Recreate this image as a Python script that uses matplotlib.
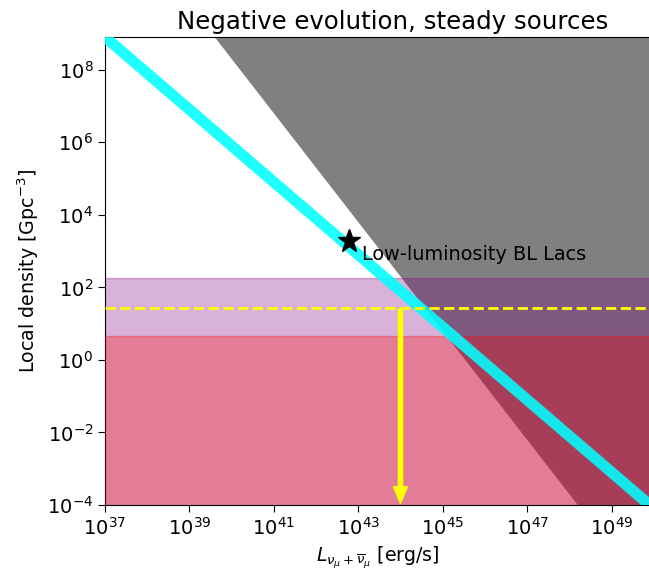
import numpy as np
import matplotlib
matplotlib.use("Agg")
import matplotlib.pyplot as plt
from matplotlib.ticker import FixedLocator, LogFormatterMathtext, NullLocator

# ---- data ----
x_ticks = [1e37, 1e39, 1e41, 1e43, 1e45, 1e47, 1e49]
y_ticks = [1e-4, 1e-2, 1e0, 1e2, 1e4, 1e6, 1e8]
xlim = (1e37, 8e49)
ylim = (1e-4, 8e8)

# cyan line: density vs luminosity
line_L = [1e37, 1e51]
line_rho = [8e8, 8e-6]

# gray excluded region boundary (region above boundary is excluded)
gray_L = [10**39.6, 10**48.2, 1e51]
gray_rho = [10**8.9, 1e-4, 10**(8.9 - 1.5 * (51 - 39.6))]

# bands
purple_band = (1e-6, 180.0)
red_band = (1e-6, 4.6)

# yellow dashed level and arrow
yellow_level = 27.0
arrow_L = 1e44
arrow_top = 25.0
arrow_bottom = 1.1e-4

# star
star_L = 6e42
star_rho = 1.9e3
star_label = "Low-luminosity BL Lacs"
star_label_pos = (1.2e43, 800)

fig = plt.figure(figsize=(6.49, 5.70), dpi=100)
ax = fig.add_axes([105 / 649, (570 - 505) / 570, 1.0 - 105 / 649 + 0.001, (505 - 37) / 570])

# gray region
gL = np.array(gray_L)
gR = np.array(gray_rho)
ax.fill_between(gL, gR, 1e12, color="gray", linewidth=0, zorder=1)

# bands
ax.fill_between([1e30, 1e55], purple_band[0], purple_band[1], color="purple", alpha=0.3, zorder=2)
ax.fill_between([1e30, 1e55], red_band[0], red_band[1], color="red", alpha=0.3, zorder=3)

# cyan line
ax.plot(line_L, line_rho, color="cyan", lw=8, alpha=0.88, zorder=4, solid_capstyle="butt")

# yellow dashed line
ax.axhline(yellow_level, color="yellow", ls="--", lw=2, zorder=5)

# arrow
ax.annotate("", xy=(arrow_L, arrow_bottom), xytext=(arrow_L, arrow_top),
            arrowprops=dict(color="yellow", width=3, headwidth=10, headlength=12, shrink=0),
            zorder=6)

# star
ax.plot([star_L], [star_rho], marker="*", color="black", ms=17, ls="none", zorder=7)
ax.text(star_label_pos[0], star_label_pos[1], star_label, fontsize=13.9, va="center", ha="left", zorder=8)

ax.set_xscale("log")
ax.set_yscale("log")
ax.set_xlim(*xlim)
ax.set_ylim(*ylim)
ax.xaxis.set_major_locator(FixedLocator(x_ticks))
ax.yaxis.set_major_locator(FixedLocator(y_ticks))
ax.xaxis.set_minor_locator(NullLocator())
ax.yaxis.set_minor_locator(NullLocator())
ax.xaxis.set_major_formatter(LogFormatterMathtext())
ax.yaxis.set_major_formatter(LogFormatterMathtext())
ax.tick_params(labelsize=14, length=5)
ax.spines["right"].set_visible(False)

ax.set_xlabel(r"$L_{\nu_\mu+\overline{\nu}_\mu}$ [erg/s]", fontsize=13.6)
ax.set_ylabel(r"Local density [Gpc$^{-3}$]", fontsize=13.7)
ax.set_title("Negative evolution, steady sources", fontsize=17.6, x=(392 - 105) / 544)

fig.savefig("out.png", dpi=100)
